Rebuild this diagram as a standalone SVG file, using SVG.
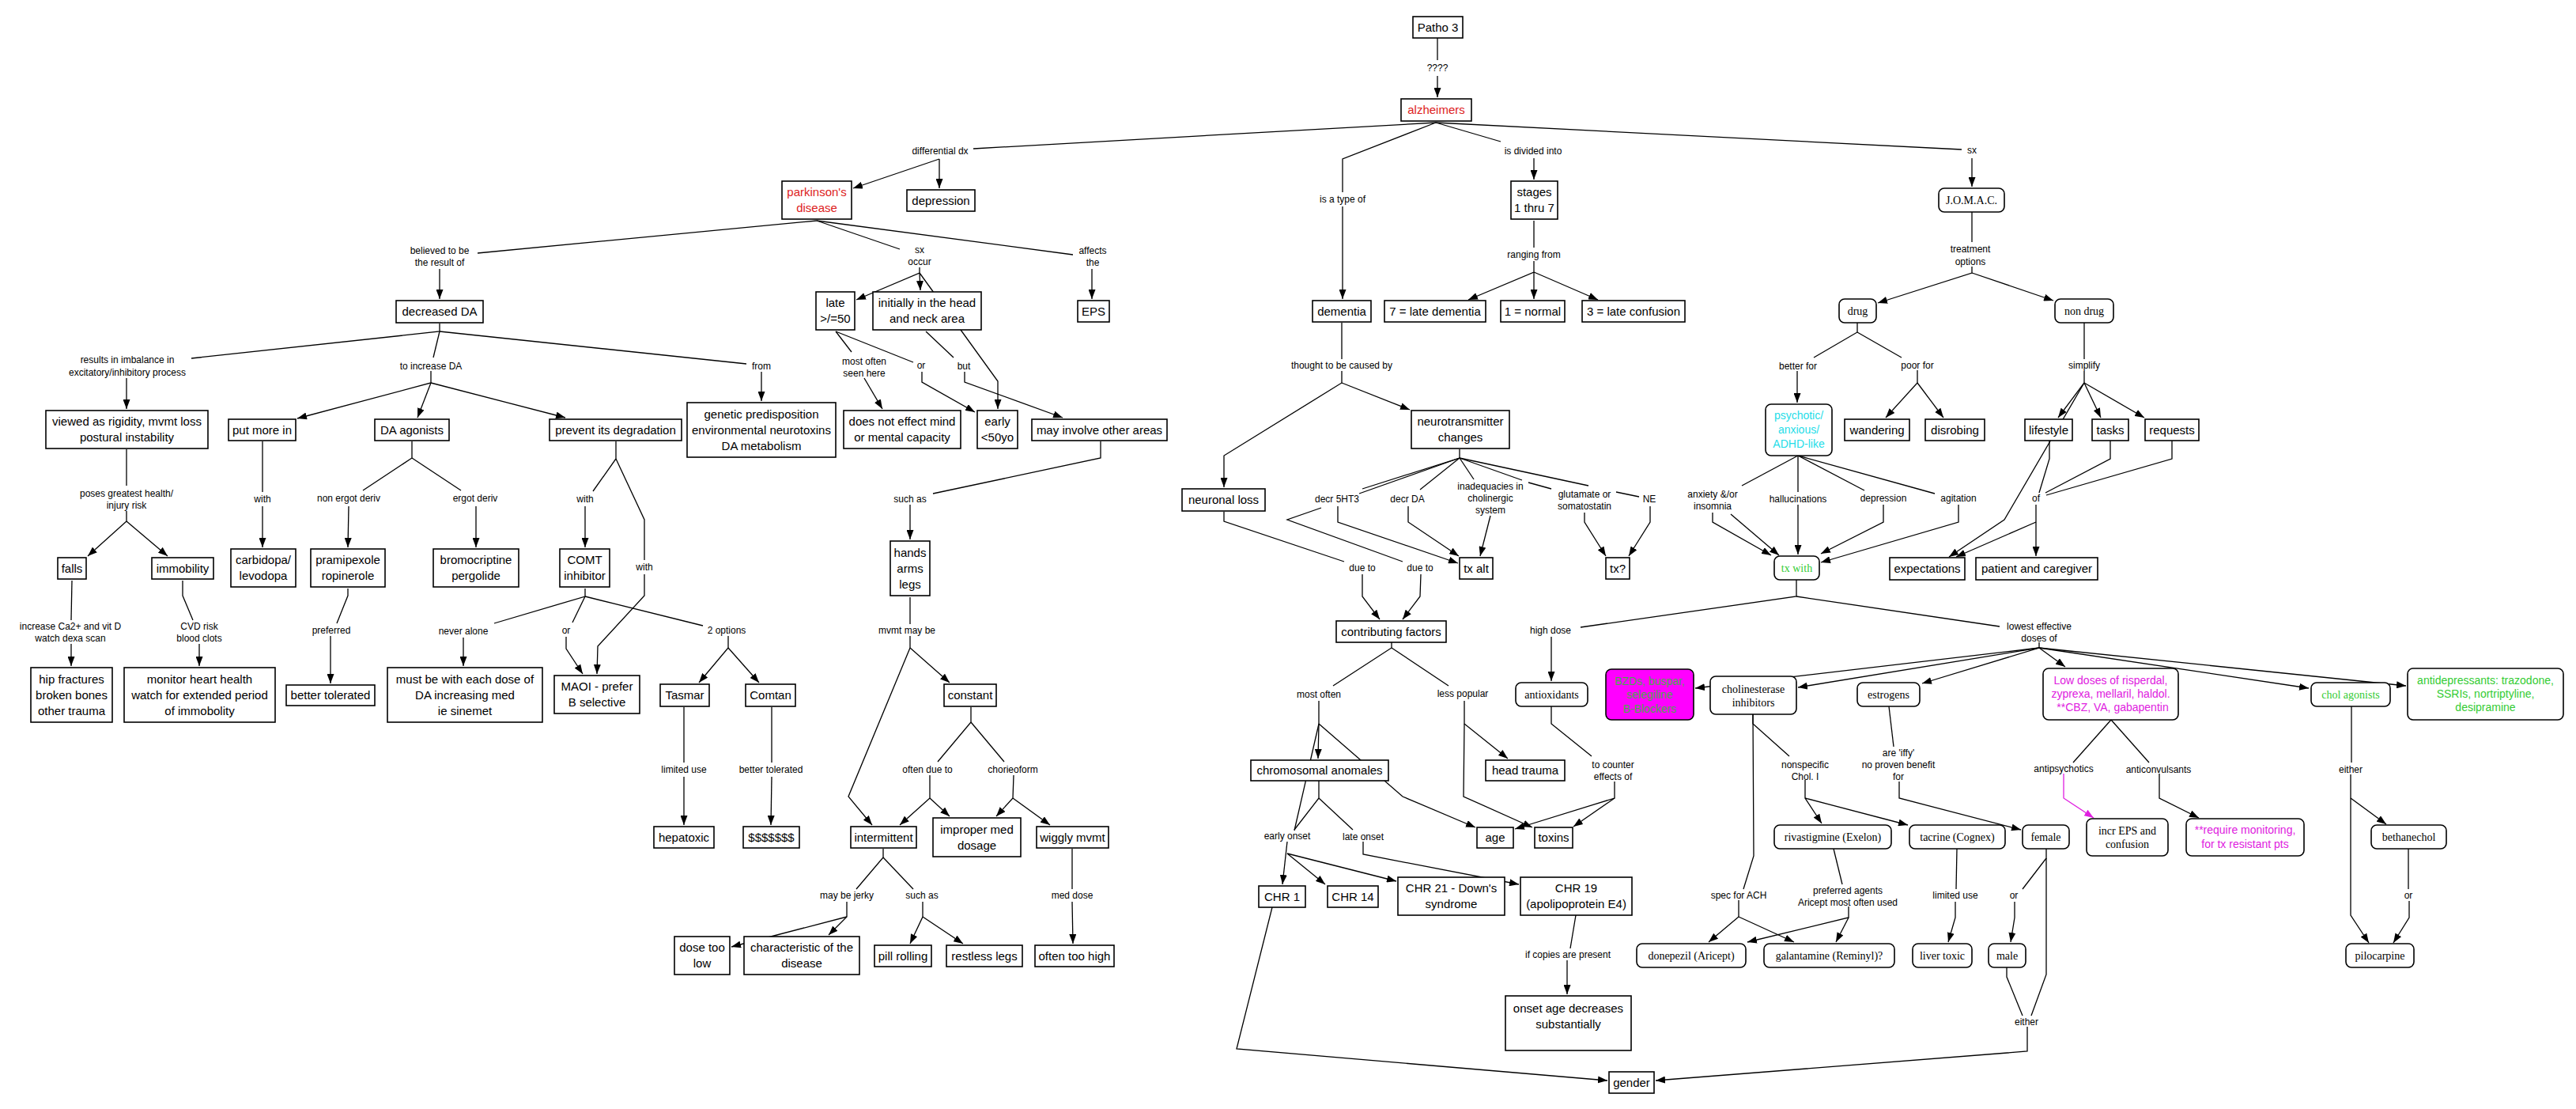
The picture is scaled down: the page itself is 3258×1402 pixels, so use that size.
<svg xmlns="http://www.w3.org/2000/svg" width="3258" height="1402" viewBox="0 0 3258 1402">
<defs>
<marker id="a" viewBox="0 0 12 9" refX="12" refY="4.5" markerWidth="12" markerHeight="9" markerUnits="userSpaceOnUse" orient="auto"><path d="M0,0L12,4.5L0,9z" fill="#000"/></marker>
<marker id="am" viewBox="0 0 12 9" refX="12" refY="4.5" markerWidth="12" markerHeight="9" markerUnits="userSpaceOnUse" orient="auto"><path d="M0,0L12,4.5L0,9z" fill="#e020e0"/></marker>
</defs>
<style>
.c{fill:none;stroke:#000;stroke-width:1.3}
.ca{fill:none;stroke:#000;stroke-width:1.3;marker-end:url(#a)}
.cm{fill:none;stroke:#e020e0;stroke-width:1.3;marker-end:url(#am)}
.b{fill:#fff;stroke:#000;stroke-width:1.6}
.t{font-family:"Liberation Sans",Arial,sans-serif;font-size:15px;text-anchor:middle;fill:#000}
.s{font-family:"Liberation Serif","Times New Roman",serif;font-size:14px;text-anchor:middle;fill:#000}
.k{font-family:"Liberation Sans",Arial,sans-serif;font-size:14px;text-anchor:middle}
.l{font-family:"Liberation Sans",Arial,sans-serif;font-size:12px;text-anchor:middle;fill:#000}
.red{fill:#dd2222}.cy{fill:#1fdde8}.gr{fill:#33cc33}.mg{fill:#e020e0}.bg{fill:#4aa84a}
</style>
<rect width="3258" height="1402" fill="#fff"/>
<g id="connectors">
<polyline class="c" points="1818,48 1818,76"/>
<polyline class="ca" points="1818,96 1818,123"/>
<polyline class="c" points="1816,155 1231,188"/>
<polyline class="ca" points="1188,201 1188,238"/>
<polyline class="ca" points="1188,201 1079,238"/>
<polyline class="c" points="1816,155 1698,201 1698,243"/>
<polyline class="ca" points="1698,261 1698,378"/>
<polyline class="c" points="1816,155 1898,179"/>
<polyline class="ca" points="1940,200 1940,227"/>
<polyline class="c" points="1816,155 2481,189"/>
<polyline class="ca" points="2494,200 2494,236"/>
<polyline class="c" points="1940,279 1940,313"/>
<polyline class="ca" points="1940,330 1940,344 1857,379"/>
<polyline class="ca" points="1940,344 1940,378"/>
<polyline class="ca" points="1940,344 2021,379"/>
<polyline class="c" points="1033,279 604,320"/>
<polyline class="c" points="1033,279 1138,315"/>
<polyline class="c" points="1033,279 1357,322"/>
<polyline class="ca" points="1381,340 1381,378"/>
<polyline class="ca" points="556,340 556,378"/>
<polyline class="ca" points="1163,338 1163,345 1083,379"/>
<polyline class="ca" points="1163,345 1164,367"/>
<polyline class="ca" points="1163,345 1262,482 1262,517"/>
<polyline class="c" points="1057,419 1077,445"/>
<polyline class="c" points="1057,419 1155,458"/>
<polyline class="ca" points="1166,470 1166,483 1233,521"/>
<polyline class="c" points="1171,419 1206,452"/>
<polyline class="ca" points="1220,470 1220,483 1344,528"/>
<polyline class="ca" points="1093,478 1116,517"/>
<polyline class="c" points="556,409 556,419 242,453"/>
<polyline class="c" points="556,419 548,452"/>
<polyline class="c" points="556,419 944,460"/>
<polyline class="ca" points="963,470 963,507"/>
<polyline class="ca" points="160,478 160,517"/>
<polyline class="ca" points="545,469 545,484 376,529"/>
<polyline class="ca" points="545,484 528,528"/>
<polyline class="ca" points="545,484 715,528"/>
<polyline class="c" points="332,558 332,622"/>
<polyline class="ca" points="332,640 332,692"/>
<polyline class="c" points="521,558 521,579 459,620"/>
<polyline class="c" points="521,579 583,620"/>
<polyline class="ca" points="441,640 440,692"/>
<polyline class="ca" points="602,640 602,692"/>
<polyline class="c" points="779,558 779,580 750,621"/>
<polyline class="c" points="779,580 815,657 815,708"/>
<polyline class="ca" points="815,726 815,753 756,817 755,852"/>
<polyline class="ca" points="740,640 740,692"/>
<polyline class="c" points="740,744 740,754 625,788"/>
<polyline class="c" points="740,754 724,787"/>
<polyline class="c" points="740,754 889,791"/>
<polyline class="ca" points="586,806 586,842"/>
<polyline class="ca" points="716,805 716,820 737,852"/>
<polyline class="ca" points="921,804 921,819 884,863"/>
<polyline class="ca" points="921,819 960,863"/>
<polyline class="c" points="865,894 865,964"/>
<polyline class="ca" points="865,982 865,1043"/>
<polyline class="c" points="976,894 976,964"/>
<polyline class="ca" points="976,982 975,1043"/>
<polyline class="c" points="160,568 160,614"/>
<polyline class="ca" points="160,646 160,659 111,703"/>
<polyline class="ca" points="160,659 212,703"/>
<polyline class="c" points="91,734 90,784"/>
<polyline class="ca" points="90,814 90,842"/>
<polyline class="c" points="231,734 231,753 244,784"/>
<polyline class="ca" points="252,814 252,842"/>
<polyline class="c" points="440,744 440,753 426,788"/>
<polyline class="ca" points="418,804 418,864"/>
<polyline class="c" points="1392,558 1392,579 1180,624"/>
<polyline class="ca" points="1151,638 1151,682"/>
<polyline class="c" points="1151,755 1151,789"/>
<polyline class="ca" points="1151,804 1151,819 1201,863"/>
<polyline class="ca" points="1151,819 1073,1007 1103,1043"/>
<polyline class="c" points="1228,894 1228,913 1186,963"/>
<polyline class="c" points="1228,913 1270,963"/>
<polyline class="ca" points="1176,980 1176,1009 1138,1043"/>
<polyline class="ca" points="1176,1009 1201,1032"/>
<polyline class="ca" points="1282,980 1281,1009 1260,1032"/>
<polyline class="ca" points="1281,1009 1328,1043"/>
<polyline class="c" points="1117,1073 1117,1084 1083,1124"/>
<polyline class="c" points="1117,1084 1155,1124"/>
<polyline class="ca" points="1071,1140 1071,1159 1048,1182"/>
<polyline class="ca" points="1071,1159 925,1197"/>
<polyline class="ca" points="1167,1140 1167,1159 1151,1193"/>
<polyline class="ca" points="1167,1159 1218,1193"/>
<polyline class="c" points="1356,1073 1356,1124"/>
<polyline class="ca" points="1356,1140 1357,1193"/>
<polyline class="c" points="1697,408 1697,454"/>
<polyline class="ca" points="1697,469 1697,484 1548,576 1548,616"/>
<polyline class="ca" points="1697,484 1783,518"/>
<polyline class="c" points="1548,647 1548,659 1700,710"/>
<polyline class="c" points="1846,568 1846,579 1723,618"/>
<polyline class="c" points="1846,579 1719,624"/>
<polyline class="c" points="1671,642 1628,657 1774,710"/>
<polyline class="c" points="1846,579 1796,619"/>
<polyline class="c" points="1846,579 1864,606"/>
<polyline class="c" points="1846,579 1925,607"/>
<polyline class="c" points="1933,610 1962,618"/>
<polyline class="c" points="1846,579 2009,614"/>
<polyline class="c" points="2044,622 2073,628"/>
<polyline class="ca" points="1692,640 1692,660 1844,712"/>
<polyline class="ca" points="1781,640 1781,660 1845,703"/>
<polyline class="ca" points="1885,652 1872,703"/>
<polyline class="ca" points="2004,648 2004,660 2031,703"/>
<polyline class="ca" points="2087,640 2087,660 2060,703"/>
<polyline class="ca" points="1723,726 1723,754 1745,783"/>
<polyline class="ca" points="1797,726 1796,754 1774,783"/>
<polyline class="c" points="1760,812 1760,819 1686,867"/>
<polyline class="c" points="1760,819 1832,867"/>
<polyline class="ca" points="1668,886 1668,915 1667,959"/>
<polyline class="c" points="1668,915 1637,1050"/>
<polyline class="ca" points="1668,915 1774,1007 1866,1046"/>
<polyline class="ca" points="1852,886 1852,915 1907,959"/>
<polyline class="ca" points="1852,915 1851,1007 1938,1046"/>
<polyline class="c" points="1668,987 1668,1009 1637,1049"/>
<polyline class="c" points="1668,1009 1711,1049"/>
<polyline class="ca" points="1628,1064 1622,1118"/>
<polyline class="ca" points="1628,1079 1676,1118"/>
<polyline class="ca" points="1628,1079 1766,1114"/>
<polyline class="ca" points="1724,1064 1724,1080 1921,1118"/>
<polyline class="ca" points="1609,1147 1564,1326 2033,1366"/>
<polyline class="c" points="1993,1157 1986,1199"/>
<polyline class="ca" points="1982,1214 1982,1257"/>
<polyline class="ca" points="1962,805 1962,861"/>
<polyline class="c" points="1962,893 1962,915 2013,956"/>
<polyline class="ca" points="2042,988 2042,1009 1916,1048"/>
<polyline class="ca" points="2042,1009 1990,1045"/>
<polyline class="c" points="2272,733 2272,754 1999,793"/>
<polyline class="c" points="2272,754 2529,792"/>
<polyline class="ca" points="2579,812 2579,819 2431,864"/>
<polyline class="ca" points="2579,819 2612,843"/>
<polyline class="ca" points="2579,819 2920,870"/>
<polyline class="ca" points="2579,819 3043,867"/>
<polyline class="ca" points="2579,819 2274,869"/>
<polyline class="ca" points="2579,819 2144,870"/>
<polyline class="c" points="2217,903 2217,915 2263,956"/>
<polyline class="c" points="2217,903 2218,1082 2205,1124"/>
<polyline class="ca" points="2283,986 2283,1009 2304,1041"/>
<polyline class="ca" points="2283,1009 2413,1043"/>
<polyline class="c" points="2319,1073 2330,1118"/>
<polyline class="ca" points="2338,1146 2338,1160 2210,1191"/>
<polyline class="ca" points="2338,1160 2322,1191"/>
<polyline class="ca" points="2199,1138 2199,1159 2161,1191"/>
<polyline class="ca" points="2199,1159 2269,1191"/>
<polyline class="c" points="2389,893 2395,944"/>
<polyline class="ca" points="2402,988 2402,1009 2556,1049"/>
<polyline class="c" points="2475,1073 2474,1124"/>
<polyline class="ca" points="2473,1140 2473,1160 2464,1191"/>
<polyline class="c" points="2588,1073 2588,1085 2558,1124"/>
<polyline class="ca" points="2548,1140 2548,1160 2543,1191"/>
<polyline class="c" points="2588,1085 2588,1232 2569,1284"/>
<polyline class="c" points="2538,1223 2538,1235 2558,1284"/>
<polyline class="ca" points="2564,1298 2564,1329 2094,1366"/>
<polyline class="c" points="2670,910 2622,964"/>
<polyline class="c" points="2670,910 2718,964"/>
<polyline class="cm" points="2610,978 2610,1009 2648,1034"/>
<polyline class="ca" points="2731,978 2731,1009 2781,1034"/>
<polyline class="c" points="2974,893 2974,964"/>
<polyline class="ca" points="2973,979 2973,1157 2996,1192"/>
<polyline class="ca" points="2973,1009 3018,1042"/>
<polyline class="c" points="3046,1073 3046,1124"/>
<polyline class="ca" points="3047,1139 3047,1160 3027,1192"/>
<polyline class="c" points="2494,268 2494,306"/>
<polyline class="ca" points="2494,337 2494,345 2375,383"/>
<polyline class="ca" points="2494,345 2597,380"/>
<polyline class="c" points="2349,408 2349,420 2294,452"/>
<polyline class="c" points="2349,420 2405,452"/>
<polyline class="ca" points="2273,469 2273,509"/>
<polyline class="ca" points="2425,468 2425,484 2385,528"/>
<polyline class="ca" points="2425,484 2458,528"/>
<polyline class="c" points="2636,408 2636,454"/>
<polyline class="ca" points="2636,469 2636,484 2603,528"/>
<polyline class="ca" points="2636,484 2535,657 2465,704"/>
<polyline class="ca" points="2636,484 2657,528"/>
<polyline class="ca" points="2636,484 2712,528"/>
<polyline class="c" points="2592,557 2592,580 2579,623"/>
<polyline class="c" points="2669,557 2669,580 2587,623"/>
<polyline class="c" points="2747,557 2747,580 2588,626"/>
<polyline class="ca" points="2575,638 2575,703"/>
<polyline class="ca" points="2575,660 2474,704"/>
<polyline class="c" points="2274,576 2203,614"/>
<polyline class="c" points="2274,576 2274,622"/>
<polyline class="c" points="2274,576 2358,620"/>
<polyline class="c" points="2274,576 2447,624"/>
<polyline class="ca" points="2166,648 2166,660 2240,702"/>
<polyline class="ca" points="2189,650 2250,702"/>
<polyline class="ca" points="2274,638 2274,701"/>
<polyline class="ca" points="2382,638 2382,660 2303,700"/>
<polyline class="ca" points="2477,638 2477,660 2303,711"/>
</g>
<g id="nodes">
<g id="patho3"><rect class="b" x="1787" y="21" width="63" height="27"/><text class="t" x="1818.5" y="39.5">Patho 3</text></g>
<g id="alzheimers"><rect class="b" x="1772" y="125" width="89" height="28"/><text class="t red" x="1816.5" y="144">alzheimers</text></g>
<g id="parkinsons"><rect class="b" x="989" y="229" width="88" height="48"/><text class="t red" x="1033" y="248">parkinson's<tspan x="1033" y="268">disease</tspan></text></g>
<g id="depression"><rect class="b" x="1147" y="240" width="86" height="27"/><text class="t" x="1190" y="258.5">depression</text></g>
<g id="dementia"><rect class="b" x="1660" y="380" width="74" height="27"/><text class="t" x="1697" y="398.5">dementia</text></g>
<g id="stages"><rect class="b" x="1911" y="229" width="59" height="48"/><text class="t" x="1940.5" y="248">stages<tspan x="1940.5" y="268">1 thru 7</tspan></text></g>
<g id="late-dementia"><rect class="b" x="1751" y="380" width="128" height="27"/><text class="t" x="1815" y="398.5">7 = late dementia</text></g>
<g id="normal"><rect class="b" x="1898" y="380" width="81" height="27"/><text class="t" x="1938.5" y="398.5">1 = normal</text></g>
<g id="late-confusion"><rect class="b" x="2001" y="380" width="130" height="27"/><text class="t" x="2066" y="398.5">3 = late confusion</text></g>
<g id="decreased-da"><rect class="b" x="501" y="380" width="110" height="28"/><text class="t" x="556" y="399">decreased DA</text></g>
<g id="late50"><rect class="b" x="1032" y="369" width="49" height="48"/><text class="t" x="1056.5" y="388">late<tspan x="1056.5" y="408">&gt;/=50</tspan></text></g>
<g id="initially"><rect class="b" x="1104" y="369" width="137" height="48"/><text class="t" x="1172.5" y="388">initially in the head<tspan x="1172.5" y="408">and neck area</tspan></text></g>
<g id="eps"><rect class="b" x="1363" y="380" width="40" height="27"/><text class="t" x="1383" y="398.5">EPS</text></g>
<g id="viewed"><rect class="b" x="58" y="519" width="205" height="48"/><text class="t" x="160.5" y="538">viewed as rigidity, mvmt loss<tspan x="160.5" y="558">postural instability</tspan></text></g>
<g id="put-more-in"><rect class="b" x="289" y="530" width="85" height="27"/><text class="t" x="331.5" y="548.5">put more in</text></g>
<g id="da-agonists"><rect class="b" x="474" y="530" width="94" height="27"/><text class="t" x="521" y="548.5">DA agonists</text></g>
<g id="prevent"><rect class="b" x="695" y="530" width="167" height="27"/><text class="t" x="778.5" y="548.5">prevent its degradation</text></g>
<g id="genetic"><rect class="b" x="869" y="509" width="188" height="69"/><text class="t" x="963" y="528.5">genetic predisposition<tspan x="963" y="548.5">environmental neurotoxins</tspan><tspan x="963" y="568.5">DA metabolism</tspan></text></g>
<g id="does-not"><rect class="b" x="1067" y="519" width="148" height="48"/><text class="t" x="1141" y="538">does not effect mind<tspan x="1141" y="558">or mental capacity</tspan></text></g>
<g id="early"><rect class="b" x="1236" y="519" width="51" height="48"/><text class="t" x="1261.5" y="538">early<tspan x="1261.5" y="558">&lt;50yo</tspan></text></g>
<g id="may-involve"><rect class="b" x="1305" y="530" width="171" height="27"/><text class="t" x="1390.5" y="548.5">may involve other areas</text></g>
<g id="neuronal-loss"><rect class="b" x="1495" y="618" width="105" height="28"/><text class="t" x="1547.5" y="637">neuronal loss</text></g>
<g id="nt-changes"><rect class="b" x="1785" y="519" width="124" height="48"/><text class="t" x="1847" y="538">neurotransmitter<tspan x="1847" y="558">changes</tspan></text></g>
<g id="falls"><rect class="b" x="73" y="705" width="36" height="27"/><text class="t" x="91" y="723.5">falls</text></g>
<g id="immobility"><rect class="b" x="192" y="705" width="78" height="27"/><text class="t" x="231" y="723.5">immobility</text></g>
<g id="carbidopa"><rect class="b" x="292" y="694" width="82" height="48"/><text class="t" x="333" y="713">carbidopa/<tspan x="333" y="733">levodopa</tspan></text></g>
<g id="pramipexole"><rect class="b" x="393" y="694" width="94" height="48"/><text class="t" x="440" y="713">pramipexole<tspan x="440" y="733">ropinerole</tspan></text></g>
<g id="bromocriptine"><rect class="b" x="548" y="694" width="108" height="48"/><text class="t" x="602" y="713">bromocriptine<tspan x="602" y="733">pergolide</tspan></text></g>
<g id="comt"><rect class="b" x="708" y="694" width="63" height="48"/><text class="t" x="739.5" y="713">COMT<tspan x="739.5" y="733">inhibitor</tspan></text></g>
<g id="hands"><rect class="b" x="1126" y="684" width="50" height="69"/><text class="t" x="1151" y="703.5">hands<tspan x="1151" y="723.5">arms</tspan><tspan x="1151" y="743.5">legs</tspan></text></g>
<g id="tx-alt"><rect class="b" x="1846" y="705" width="42" height="27"/><text class="t" x="1867" y="723.5">tx alt</text></g>
<g id="tx-q"><rect class="b" x="2031" y="705" width="30" height="27"/><text class="t" x="2046" y="723.5">tx?</text></g>
<g id="contributing"><rect class="b" x="1690" y="785" width="139" height="27"/><text class="t" x="1759.5" y="803.5">contributing factors</text></g>
<g id="hip"><rect class="b" x="39" y="844" width="103" height="69"/><text class="t" x="90.5" y="863.5">hip fractures<tspan x="90.5" y="883.5">broken bones</tspan><tspan x="90.5" y="903.5">other trauma</tspan></text></g>
<g id="monitor"><rect class="b" x="157" y="844" width="191" height="69"/><text class="t" x="252.5" y="863.5">monitor heart health<tspan x="252.5" y="883.5">watch for extended period</tspan><tspan x="252.5" y="903.5">of immobolity</tspan></text></g>
<g id="better-tolerated"><rect class="b" x="362" y="866" width="112" height="26"/><text class="t" x="418" y="884">better tolerated</text></g>
<g id="must-be"><rect class="b" x="490" y="844" width="196" height="69"/><text class="t" x="588" y="863.5">must be with each dose of<tspan x="588" y="883.5">DA increasing med</tspan><tspan x="588" y="903.5">ie sinemet</tspan></text></g>
<g id="maoi"><rect class="b" x="701" y="854" width="108" height="48"/><text class="t" x="755" y="873">MAOI - prefer<tspan x="755" y="893">B selective</tspan></text></g>
<g id="tasmar"><rect class="b" x="835" y="865" width="62" height="28"/><text class="t" x="866" y="884">Tasmar</text></g>
<g id="comtan"><rect class="b" x="943" y="865" width="63" height="28"/><text class="t" x="974.5" y="884">Comtan</text></g>
<g id="constant"><rect class="b" x="1194" y="865" width="66" height="28"/><text class="t" x="1227" y="884">constant</text></g>
<g id="chromosomal"><rect class="b" x="1582" y="961" width="174" height="26"/><text class="t" x="1669" y="979">chromosomal anomales</text></g>
<g id="head-trauma"><rect class="b" x="1879" y="961" width="100" height="26"/><text class="t" x="1929" y="979">head trauma</text></g>
<g id="hepatoxic"><rect class="b" x="827" y="1045" width="76" height="27"/><text class="t" x="865" y="1063.5">hepatoxic</text></g>
<g id="dollars"><rect class="b" x="940" y="1045" width="71" height="27"/><text class="t" x="975.5" y="1063.5">$$$$$$$</text></g>
<g id="intermittent"><rect class="b" x="1076" y="1045" width="83" height="27"/><text class="t" x="1117.5" y="1063.5">intermittent</text></g>
<g id="improper"><rect class="b" x="1180" y="1034" width="111" height="49"/><text class="t" x="1235.5" y="1053.5">improper med<tspan x="1235.5" y="1073.5">dosage</tspan></text></g>
<g id="wiggly"><rect class="b" x="1311" y="1045" width="91" height="27"/><text class="t" x="1356.5" y="1063.5">wiggly mvmt</text></g>
<g id="age"><rect class="b" x="1868" y="1046" width="46" height="26"/><text class="t" x="1891" y="1064">age</text></g>
<g id="toxins"><rect class="b" x="1941" y="1046" width="48" height="26"/><text class="t" x="1965" y="1064">toxins</text></g>
<g id="chr1"><rect class="b" x="1592" y="1120" width="59" height="27"/><text class="t" x="1621.5" y="1138.5">CHR 1</text></g>
<g id="chr14"><rect class="b" x="1679" y="1120" width="64" height="27"/><text class="t" x="1711" y="1138.5">CHR 14</text></g>
<g id="chr21"><rect class="b" x="1768" y="1109" width="135" height="48"/><text class="t" x="1835.5" y="1128">CHR 21 - Down's<tspan x="1835.5" y="1148">syndrome</tspan></text></g>
<g id="chr19"><rect class="b" x="1923" y="1109" width="141" height="48"/><text class="t" x="1993.5" y="1128">CHR 19<tspan x="1993.5" y="1148">(apolipoprotein E4)</tspan></text></g>
<g id="dose-too-low"><rect class="b" x="853" y="1184" width="70" height="48"/><text class="t" x="888" y="1203">dose too<tspan x="888" y="1223">low</tspan></text></g>
<g id="characteristic"><rect class="b" x="941" y="1184" width="146" height="48"/><text class="t" x="1014" y="1203">characteristic of the<tspan x="1014" y="1223">disease</tspan></text></g>
<g id="pill-rolling"><rect class="b" x="1106" y="1195" width="72" height="27"/><text class="t" x="1142" y="1213.5">pill rolling</text></g>
<g id="restless-legs"><rect class="b" x="1197" y="1195" width="96" height="27"/><text class="t" x="1245" y="1213.5">restless legs</text></g>
<g id="often-too-high"><rect class="b" x="1309" y="1195" width="100" height="27"/><text class="t" x="1359" y="1213.5">often too high</text></g>
<g id="onset-age"><rect class="b" x="1904" y="1259" width="159" height="69"/><text class="t" x="1983.5" y="1280">onset age decreases<tspan x="1983.5" y="1300">substantially</tspan></text></g>
<g id="gender"><rect class="b" x="2035" y="1355" width="57" height="27"/><text class="t" x="2063.5" y="1373.5">gender</text></g>
<g id="wandering"><rect class="b" x="2333" y="530" width="82" height="27"/><text class="t" x="2374" y="548.5">wandering</text></g>
<g id="disrobing"><rect class="b" x="2435" y="530" width="75" height="27"/><text class="t" x="2472.5" y="548.5">disrobing</text></g>
<g id="lifestyle"><rect class="b" x="2561" y="530" width="60" height="27"/><text class="t" x="2591" y="548.5">lifestyle</text></g>
<g id="tasks"><rect class="b" x="2646" y="530" width="46" height="27"/><text class="t" x="2669" y="548.5">tasks</text></g>
<g id="requests"><rect class="b" x="2713" y="530" width="68" height="27"/><text class="t" x="2747" y="548.5">requests</text></g>
<g id="expectations"><rect class="b" x="2390" y="705" width="95" height="28"/><text class="t" x="2437.5" y="724">expectations</text></g>
<g id="patient"><rect class="b" x="2499" y="705" width="154" height="28"/><text class="t" x="2576" y="724">patient and caregiver</text></g>
<g id="jomac"><rect class="b" x="2452" y="238" width="83" height="30" rx="7"/><text class="s" x="2493.5" y="258">J.O.M.A.C.</text></g>
<g id="drug"><rect class="b" x="2326" y="378" width="47" height="30" rx="7"/><text class="s" x="2349.5" y="398">drug</text></g>
<g id="non-drug"><rect class="b" x="2599" y="378" width="74" height="30" rx="7"/><text class="s" x="2636" y="398">non drug</text></g>
<g id="antioxidants"><rect class="b" x="1917" y="863" width="91" height="30" rx="7"/><text class="s" x="1962.5" y="883">antioxidants</text></g>
<g id="cholinesterase"><rect class="b" x="2163" y="855" width="109" height="48" rx="7"/><text class="s" x="2217.5" y="875.5">cholinesterase<tspan x="2217.5" y="892.5">inhibitors</tspan></text></g>
<g id="estrogens"><rect class="b" x="2349" y="863" width="79" height="30" rx="7"/><text class="s" x="2388.5" y="883">estrogens</text></g>
<g id="rivastigmine"><rect class="b" x="2244" y="1043" width="148" height="30" rx="7"/><text class="s" x="2318" y="1063">rivastigmine (Exelon)</text></g>
<g id="tacrine"><rect class="b" x="2415" y="1043" width="121" height="30" rx="7"/><text class="s" x="2475.5" y="1063">tacrine (Cognex)</text></g>
<g id="female"><rect class="b" x="2558" y="1043" width="59" height="30" rx="7"/><text class="s" x="2587.5" y="1063">female</text></g>
<g id="incr-eps"><rect class="b" x="2639" y="1035" width="103" height="47" rx="7"/><text class="s" x="2690.5" y="1055">incr EPS and<tspan x="2690.5" y="1072">confusion</tspan></text></g>
<g id="bethanechol"><rect class="b" x="2999" y="1043" width="95" height="30" rx="7"/><text class="s" x="3046.5" y="1063">bethanechol</text></g>
<g id="donepezil"><rect class="b" x="2070" y="1193" width="138" height="30" rx="7"/><text class="s" x="2139" y="1213">donepezil (Aricept)</text></g>
<g id="galantamine"><rect class="b" x="2231" y="1193" width="165" height="30" rx="7"/><text class="s" x="2313.5" y="1213">galantamine (Reminyl)?</text></g>
<g id="liver-toxic"><rect class="b" x="2419" y="1193" width="75" height="30" rx="7"/><text class="s" x="2456.5" y="1213">liver toxic</text></g>
<g id="male"><rect class="b" x="2515" y="1193" width="47" height="30" rx="7"/><text class="s" x="2538.5" y="1213">male</text></g>
<g id="pilocarpine"><rect class="b" x="2967" y="1193" width="86" height="30" rx="7"/><text class="s" x="3010" y="1213">pilocarpine</text></g>
<g id="tx-with"><rect class="b" x="2244" y="703" width="57" height="30" rx="7"/><text class="s gr" x="2272.5" y="723">tx with</text></g>
<g id="chol-agonists"><rect class="b" x="2923" y="863" width="100" height="30" rx="7"/><text class="s gr" x="2973" y="883">chol agonists</text></g>
<g id="psychotic"><rect class="b" x="2233" y="511" width="84" height="65" rx="7"/><text class="k cy" x="2275" y="530">psychotic/<tspan x="2275" y="548">anxious/</tspan><tspan x="2275" y="566">ADHD-like</tspan></text></g>
<g id="bzds"><rect x="2031" y="846" width="111" height="64" rx="7" fill="#ff00ff" stroke="#000" stroke-width="1.6"/><text class="k bg" x="2086.5" y="866">BZDs, buspar,<tspan x="2086.5" y="883">selegiline</tspan><tspan x="2086.5" y="901">B-Blockers</tspan></text></g>
<g id="low-doses"><rect class="b" x="2584" y="845" width="171" height="65" rx="7"/><text class="k mg" x="2669.5" y="865">Low doses of risperdal,<tspan x="2669.5" y="882">zyprexa, mellaril, haldol.</tspan><tspan x="2672" y="899">**CBZ, VA, gabapentin</tspan></text></g>
<g id="antidepressants"><rect class="b" x="3045" y="845" width="197" height="65" rx="7"/><text class="k gr" x="3143.5" y="865">antidepressants: trazodone,<tspan x="3143.5" y="882">SSRIs, nortriptyline,</tspan><tspan x="3143.5" y="899">desipramine</tspan></text></g>
<g id="require-monitoring"><rect class="b" x="2765" y="1035" width="149" height="47" rx="7"/><text class="k mg" x="2839.5" y="1054">**require monitoring,<tspan x="2839.5" y="1072">for tx resistant pts</tspan></text></g>
</g>
<g id="labels">
<text class="l" x="1818" y="90">????</text>
<text class="l" x="1189" y="195">differential dx</text>
<text class="l" x="1698" y="256">is a type of</text>
<text class="l" x="1939" y="195">is divided into</text>
<text class="l" x="2494" y="194">sx</text>
<text class="l" x="1940" y="326">ranging from</text>
<text class="l" x="556" y="321">believed to be<tspan x="556" y="336">the result of</tspan></text>
<text class="l" x="1163" y="320">sx<tspan x="1163" y="335">occur</tspan></text>
<text class="l" x="1382" y="321">affects<tspan x="1382" y="336">the</tspan></text>
<text class="l" x="2492" y="319">treatment<tspan x="2492" y="335">options</tspan></text>
<text class="l" x="2274" y="467">better for</text>
<text class="l" x="2425" y="466">poor for</text>
<text class="l" x="2636" y="466">simplify</text>
<text class="l" x="1697" y="466">thought to be caused by</text>
<text class="l" x="161" y="459">results in imbalance in<tspan x="161" y="475">excitatory/inhibitory process</tspan></text>
<text class="l" x="545" y="467">to increase DA</text>
<text class="l" x="963" y="467">from</text>
<text class="l" x="1093" y="461">most often<tspan x="1093" y="476">seen here</tspan></text>
<text class="l" x="1165" y="466">or</text>
<text class="l" x="1219" y="467">but</text>
<text class="l" x="160" y="628">poses greatest health/<tspan x="160" y="643">injury risk</tspan></text>
<text class="l" x="332" y="635">with</text>
<text class="l" x="441" y="634">non ergot deriv</text>
<text class="l" x="601" y="634">ergot deriv</text>
<text class="l" x="740" y="635">with</text>
<text class="l" x="815" y="721">with</text>
<text class="l" x="1151" y="635">such as</text>
<text class="l" x="1691" y="635">decr 5HT3</text>
<text class="l" x="1780" y="635">decr DA</text>
<text class="l" x="1885" y="619">inadequacies in<tspan x="1885" y="634">cholinergic</tspan><tspan x="1885" y="649">system</tspan></text>
<text class="l" x="2004" y="629">glutamate or<tspan x="2004" y="644">somatostatin</tspan></text>
<text class="l" x="2086" y="635">NE</text>
<text class="l" x="2166" y="629">anxiety &amp;/or<tspan x="2166" y="644">insomnia</tspan></text>
<text class="l" x="2274" y="635">hallucinations</text>
<text class="l" x="2382" y="634">depression</text>
<text class="l" x="2477" y="634">agitation</text>
<text class="l" x="2575" y="634">of</text>
<text class="l" x="1723" y="722">due to</text>
<text class="l" x="1796" y="722">due to</text>
<text class="l" x="89" y="796">increase Ca2+ and vit D<tspan x="89" y="811">watch dexa scan</tspan></text>
<text class="l" x="252" y="796">CVD risk<tspan x="252" y="811">blood clots</tspan></text>
<text class="l" x="419" y="801">preferred</text>
<text class="l" x="586" y="802">never alone</text>
<text class="l" x="716" y="801">or</text>
<text class="l" x="919" y="801">2 options</text>
<text class="l" x="1147" y="801">mvmt may be</text>
<text class="l" x="2579" y="796">lowest effective<tspan x="2579" y="811">doses of</tspan></text>
<text class="l" x="1961" y="801">high dose</text>
<text class="l" x="1668" y="882">most often</text>
<text class="l" x="1850" y="881">less popular</text>
<text class="l" x="865" y="977">limited use</text>
<text class="l" x="975" y="977">better tolerated</text>
<text class="l" x="1173" y="977">often due to</text>
<text class="l" x="1281" y="977">chorieoform</text>
<text class="l" x="2040" y="971">to counter<tspan x="2040" y="986">effects of</tspan></text>
<text class="l" x="2283" y="971">nonspecific<tspan x="2283" y="986">Chol. I</tspan></text>
<text class="l" x="2401" y="956">are 'iffy'<tspan x="2401" y="971">no proven benefit</tspan><tspan x="2401" y="986">for</tspan></text>
<text class="l" x="2610" y="976">antipsychotics</text>
<text class="l" x="2730" y="977">anticonvulsants</text>
<text class="l" x="2973" y="977">either</text>
<text class="l" x="1628" y="1061">early onset</text>
<text class="l" x="1724" y="1062">late onset</text>
<text class="l" x="1071" y="1136">may be jerky</text>
<text class="l" x="1166" y="1136">such as</text>
<text class="l" x="1356" y="1136">med dose</text>
<text class="l" x="2199" y="1136">spec for ACH</text>
<text class="l" x="2337" y="1130">preferred agents<tspan x="2337" y="1145">Aricept most often used</tspan></text>
<text class="l" x="2473" y="1136">limited use</text>
<text class="l" x="2547" y="1136">or</text>
<text class="l" x="3046" y="1136">or</text>
<text class="l" x="1983" y="1211">if copies are present</text>
<text class="l" x="2563" y="1296">either</text>
</g>
</svg>
